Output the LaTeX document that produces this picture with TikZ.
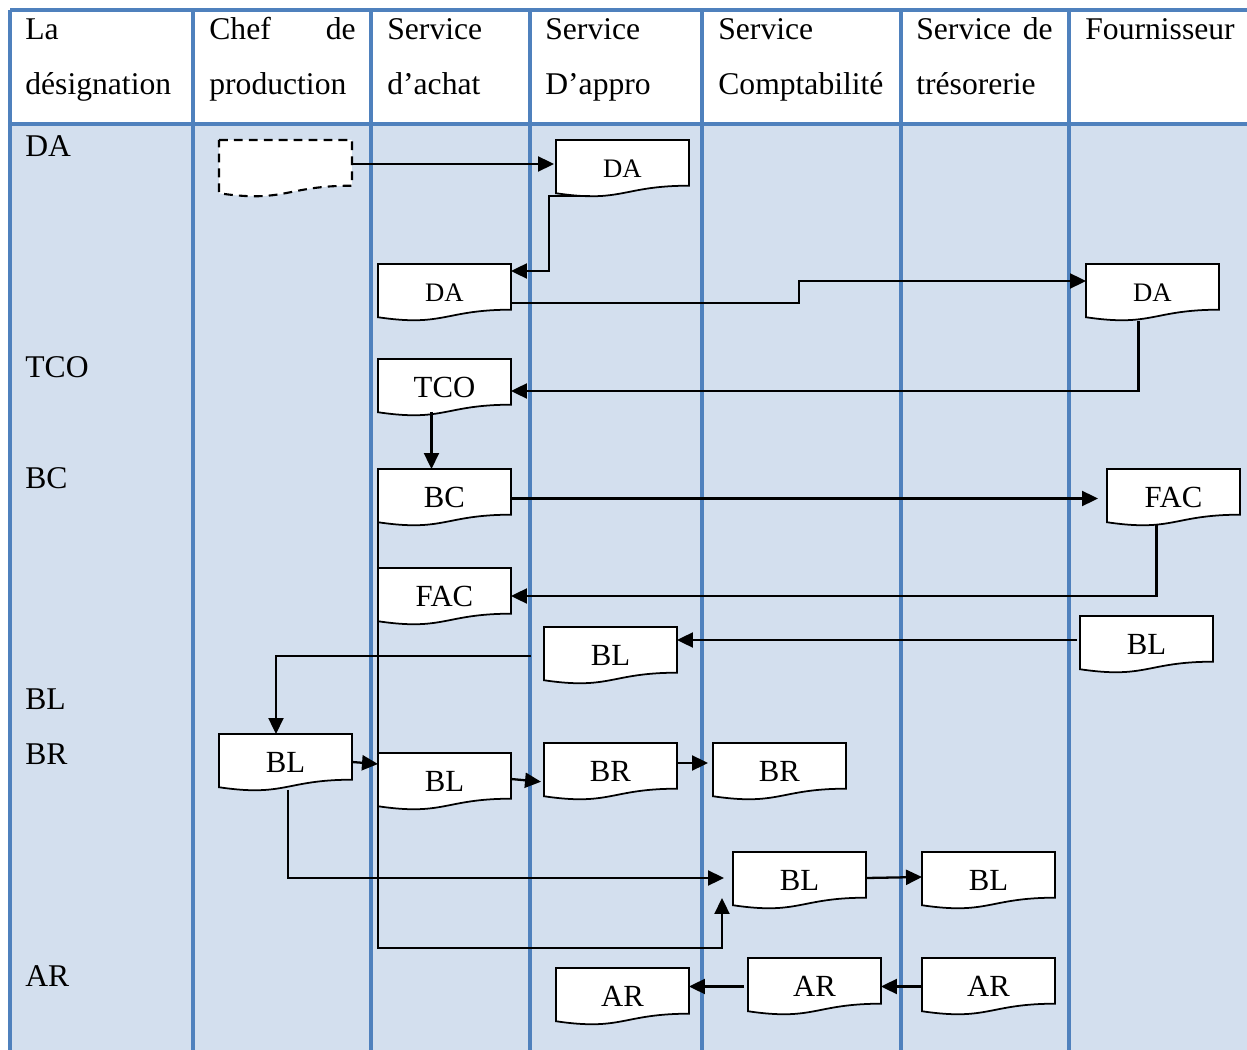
\documentclass[tikz,border=0pt]{standalone}
\usepackage{fontspec}
\setmainfont{Liberation Serif}
\usetikzlibrary{arrows.meta,calc}
\definecolor{tblue}{HTML}{4F81BD}
\definecolor{tbody}{HTML}{D3DFEE}
\pgfdeclarelayer{bg}
\pgfdeclarelayer{docs}
\pgfsetlayers{bg,docs,main}
\newcommand\docshape[2][]{%
  \begin{pgfonlayer}{docs}
    \draw[docline,#1] (#2.north west) -- (#2.north east)
      -- ($(#2.north east)!0.802!(#2.south east)$)
      .. controls ($(#2.north)!0.802!(#2.south)$) and ($(#2.north)!1.1075!(#2.south)$)
      .. ($(#2.north west)!0.934!(#2.south west)$) -- cycle;
  \end{pgfonlayer}}
\begin{document}
\begin{tikzpicture}[x=0.02cm,y=-0.02cm,
  hdr/.style={font=\fontsize{18}{20}\selectfont, inner sep=0pt, anchor=base west},
  doc/.style={minimum width=2.66cm, minimum height=1.14cm, inner sep=0pt, outer sep=0pt,
              font=\fontsize{17.5}{20}\selectfont, anchor=north west},
  docsm/.style={doc, font=\fontsize{15.2}{18}\selectfont},
  docline/.style={draw=black, line width=1pt, fill=white, line join=miter},
  arr/.style={draw=black, line width=1.3pt, -{Triangle[length=0.32cm,width=0.3cm]}},
  grid/.style={draw=tblue, line width=1.8pt}]
\useasboundingbox (0,0) rectangle (1247,1050);
\begin{pgfonlayer}{bg}
  \fill[white] (0,0) rectangle (1247,1050);
  \fill[tbody] (10,124) rectangle (1247,1050);
  \draw[grid] (10,10) -- (1247,10);
  \draw[grid] (10,10) -- (10,1050);
  \draw[grid, line width=2.3pt] (10,124) -- (1247,124);
  \foreach \x in {193,371,530,702,901,1069} \draw[grid] (\x,10) -- (\x,1050);
\end{pgfonlayer}

% header
\node[hdr] (hLa) at (25,40) {La};
\node[hdr] (hDes) at (25,95) {désignation};
\node[hdr] (hChef) at (209,40) {Chef};
\node[hdr, anchor=base east] (hDeA) at (356,40) {de};
\node[hdr] (hProd) at (209,95) {production};
\node[hdr] (hSa) at (387,40) {Service};
\node[hdr] (hAchat) at (387,95) {d’achat};
\node[hdr] (hSp) at (545,40) {Service};
\node[hdr] (hAppro) at (545,95) {D’appro};
\node[hdr] (hSc) at (718,40) {Service};
\node[hdr] (hCompta) at (718,95) {Comptabilité};
\node[hdr] (hSt) at (916,40) {Service};
\node[hdr, anchor=base east] (hDeB) at (1053,40) {de};
\node[hdr] (hTres) at (916,95) {trésorerie};
\node[hdr] (hF) at (1085,40) {Fournisseur};

% row labels
\node[hdr] (lDA) at (25,157) {DA};
\node[hdr] (lTCO) at (25,378) {TCO};
\node[hdr] (lBC) at (25,488) {BC};
\node[hdr] (lBL) at (25,709) {BL};
\node[hdr] (lBR) at (25,764) {BR};
\node[hdr] (lAR) at (25,986) {AR};

% documents
\node[doc] (dash) at (219,140) {};
\docshape[dashed, dash pattern=on 5pt off 3.5pt, line width=1.2pt]{dash}
\node[docsm] (DAa) at (556,140) {DA};   \docshape{DAa}
\node[docsm] (DAb) at (378,264) {DA};   \docshape{DAb}
\node[docsm] (DAc) at (1086,264) {DA};  \docshape{DAc}
\node[doc] (TCO) at (378,359) {TCO};    \docshape{TCO}
\node[doc] (BC) at (378,469) {BC};      \docshape{BC}
\node[doc] (FACf) at (1107,469) {FAC};  \docshape{FACf}
\node[doc] (FACa) at (378,568) {FAC};   \docshape{FACa}
\node[doc] (BLf) at (1080,616) {BL};    \docshape{BLf}
\node[doc] (BLp) at (544,627) {BL};     \docshape{BLp}
\node[doc] (BLc) at (219,734) {BL};     \docshape{BLc}
\node[doc] (BLa) at (378,753) {BL};     \docshape{BLa}
\node[doc] (BRp) at (544,743) {BR};     \docshape{BRp}
\node[doc] (BRc) at (713,743) {BR};     \docshape{BRc}
\node[doc] (BLk) at (733,852) {BL};     \docshape{BLk}
\node[doc] (BLt) at (922,852) {BL};     \docshape{BLt}
\node[doc] (ARp) at (556,968) {AR};     \docshape{ARp}
\node[doc] (ARk) at (748,958) {AR};     \docshape{ARk}
\node[doc] (ARt) at (922,958) {AR};     \docshape{ARt}

% connectors
\draw[arr, shorten >=0.04cm] (dash.east |- 0,164) -- (DAa.west |- 0,164);
\draw[arr] ($(DAa.south)+(-32,-1)$) -| (549,271) -- (DAb.east |- 549,271);
\draw[arr] (DAb.east |- 0,303) -| (799,292) |- (DAc.west |- 0,281);
\draw[arr] ($(DAc.south)+(-14,0)$) |- (TCO.east |- 0,391);
\draw[arr] ($(TCO.south)+(-13,-4)$) -- ($(BC.north)+(-13,0)$);
\draw[arr, shorten >=0.18cm] (BC.east |- 0,498.5) -- (FACf.west |- 0,498.5);
\draw[arr] ($(FACf.south)+(-17,-1)$) |- (FACa.east |- 0,596);
\draw[arr] ($(BLf.west |- 0,640)+(-3,0)$) -- (BLp.east |- 0,640);
\draw[arr] ($(BLp.west |- 0,656)+(-13,0)$) -| ($(BLc.north)+(-9.5,0)$);
\draw[arr] (BLc.east |- 0,762) -- (BLa.west |- 0,764);
\draw[arr, shorten >=0.06cm] (BLa.east |- 0,779) -- (BRp.west |- 0,782);
\draw[arr, shorten >=0.1cm] (BRp.east |- 0,763) -- (BRc.west |- 0,763);
\draw[arr, shorten >=0.18cm] ($(BLc.south)+(2.5,-1)$) |- (BLk.west |- 0,878);
\draw[arr] (BC.west) -- (BC.west |- 0,948) -| ($(BLk.south west)+(-11,-11)$);
\draw[arr] (BLk.east |- 0,878) -- (BLt.west |- 0,877);
\draw[arr] ($(ARk.west)+(-4,0)$) -- (ARp.east |- ARk.west);
\draw[arr] (ARt.west) -- (ARk.east);
\end{tikzpicture}
\end{document}
